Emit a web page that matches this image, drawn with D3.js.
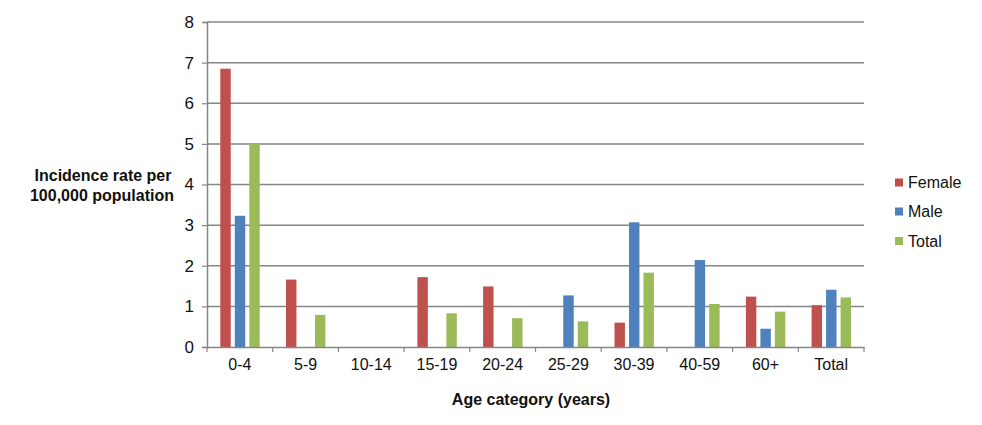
<!DOCTYPE html>
<html><head><meta charset="utf-8">
<script src="https://cdn.jsdelivr.net/npm/d3@7"></script>
<style>body{margin:0;background:#fff;} text{font-family:"Liberation Sans",Arial,sans-serif;}</style>
</head><body>
<svg id="chart" width="982" height="425"></svg>
<script>
const categories = ["0-4","5-9","10-14","15-19","20-24","25-29","30-39","40-59","60+","Total"];
const seriesNames = ["Female","Male","Total"];
const female = [6.85,1.66,0,1.72,1.49,0,0.60,0,1.24,1.03];
const male   = [3.23,0,0,0,0,1.27,3.07,2.14,0.45,1.41];
const total  = [5.00,0.79,0,0.83,0.71,0.63,1.83,1.06,0.87,1.22];
const yTicks = [0,1,2,3,4,5,6,7,8];
const colors = ["#C0504D","#4F81BD","#9BBB59"];

(function () {
const seriesValues = [female, male, total];
const svg = d3.select("#chart");
const pLeft = 207, pRight = 864, pTop = 22, pBottom = 347;

const x0 = d3.scaleBand().domain(categories).range([pLeft, pRight]).padding(0);
const x1 = d3.scaleBand().domain(seriesNames).range([13.3, x0.bandwidth() - 13]).paddingInner(0.28);
const y = d3.scaleLinear().domain([0, 8]).range([pBottom, pTop]);

// gridlines
svg.append("g").selectAll("line").data(yTicks.filter(d => d > 0)).join("line")
  .attr("x1", pLeft).attr("x2", pRight)
  .attr("y1", d => y(d)).attr("y2", d => y(d))
  .attr("stroke", "#868686").attr("stroke-width", 1.5);

// bars
const groups = svg.append("g").selectAll("g").data(categories).join("g")
  .attr("transform", d => `translate(${x0(d)},0)`);
groups.selectAll("rect")
  .data((c, i) => seriesNames.map((s, j) => ({s, j, v: seriesValues[j][i]})).filter(d => d.v > 0))
  .join("rect")
  .attr("x", d => x1(d.s)).attr("width", x1.bandwidth())
  .attr("y", d => y(d.v)).attr("height", d => y(0) - y(d.v))
  .attr("fill", d => colors[d.j]);

// y axis
const yAxis = svg.append("g").attr("transform", `translate(${pLeft},0)`)
  .call(d3.axisLeft(y).tickValues(yTicks).tickSize(5).tickPadding(8).tickFormat(d3.format("d")));
yAxis.select(".domain").attr("stroke", "#868686").attr("stroke-width", 1.5);
yAxis.selectAll(".tick line").attr("stroke", "#868686").attr("stroke-width", 1.2);
yAxis.selectAll("text").attr("font-size", 17).attr("fill", "#111");

// x axis
const xAxis = svg.append("g").attr("transform", `translate(0,${pBottom})`)
  .call(d3.axisBottom(x0).tickSize(0).tickPadding(12));
xAxis.select(".domain").attr("stroke", "#868686").attr("stroke-width", 1.5);
xAxis.selectAll("text").attr("font-size", 16).attr("fill", "#111");
svg.append("g").selectAll("line")
  .data(categories.map(c => x0(c)).concat([pRight]))
  .join("line")
  .attr("x1", d => d).attr("x2", d => d)
  .attr("y1", pBottom).attr("y2", pBottom + 5)
  .attr("stroke", "#868686").attr("stroke-width", 1.2);

// axis titles
const yt = svg.append("text").attr("text-anchor", "middle").attr("font-size", 16).attr("font-weight", "bold").attr("fill", "#111");
yt.append("tspan").attr("x", 103).attr("y", 181).text("Incidence rate per");
yt.append("tspan").attr("x", 102).attr("y", 201).text("100,000 population");

svg.append("text").attr("x", 531).attr("y", 405).attr("text-anchor", "middle")
  .attr("font-size", 16).attr("font-weight", "bold").attr("fill", "#111")
  .text("Age category (years)");

// legend
const legendY = [182.5, 211.5, 241];
const lg = svg.append("g").selectAll("g").data(seriesNames).join("g")
  .attr("transform", (d, i) => `translate(895,${legendY[i]})`);
lg.append("rect").attr("x", 0).attr("y", -4).attr("width", 8).attr("height", 8)
  .attr("fill", (d, i) => colors[i]);
lg.append("text").attr("x", 13).attr("y", 0).attr("dy", "0.35em")
  .attr("font-size", 16).attr("fill", "#111").text(d => d);
})();
</script>
</body></html>
